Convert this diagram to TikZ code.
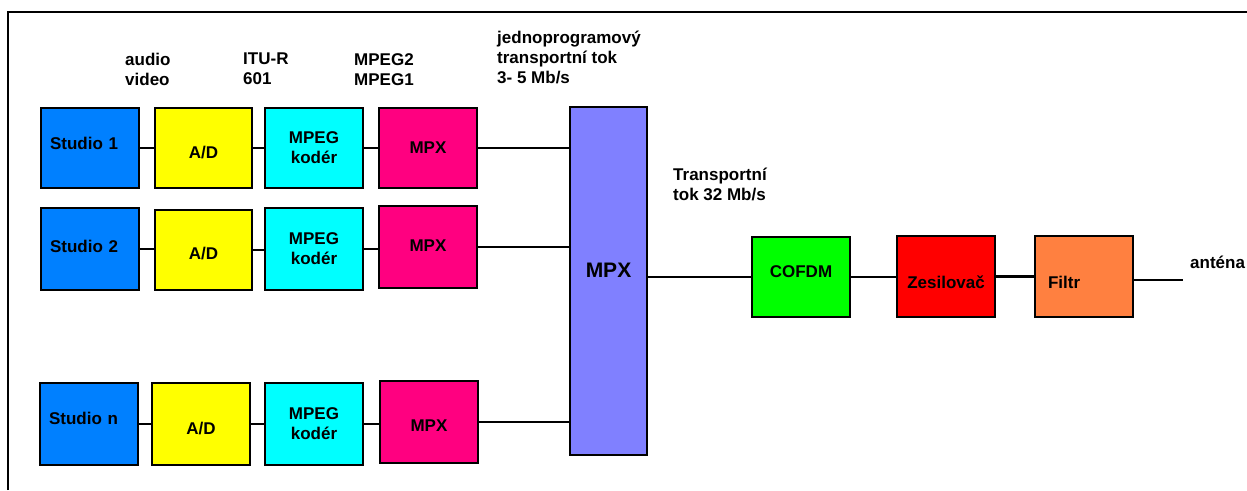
\documentclass[tikz,border=0pt]{standalone}
\usepackage{fontspec}
\setmainfont{Liberation Sans}
\begin{document}
\begin{tikzpicture}[x=1pt,y=-1pt,
  box/.style={draw=black,line width=2.5pt,rectangle,minimum width=98pt,minimum height=80pt,inner sep=0pt,align=center,font=\bfseries\fontsize{17}{20}\selectfont},
  studiobox/.style={box,fill=stblue,text width=80pt,inner xsep=9pt,align=left},
  adbox/.style={box,fill=adyellow},
  mpegbox/.style={box,fill=mpcyan},
  mpxbox/.style={box,fill=mpxpink},
  tup/.style={text height=12pt,text depth=#1},
  tdown/.style={text height=#1,text depth=0pt},
  lbl/.style={anchor=north west,inner sep=0pt,align=left,font=\bfseries\fontsize{17}{20}\selectfont},
  conn/.style={draw=black,line width=2.5pt}]
\definecolor{stblue}{RGB}{0,128,255}
\definecolor{adyellow}{RGB}{255,255,0}
\definecolor{mpcyan}{RGB}{0,255,255}
\definecolor{mpxpink}{RGB}{255,0,128}
\definecolor{bigmpx}{RGB}{128,128,255}
\definecolor{cogreen}{RGB}{0,255,0}
\definecolor{zered}{RGB}{255,0,0}
\definecolor{filtrc}{RGB}{255,128,64}
\useasboundingbox (0,0) rectangle (1247,490);
\fill[white] (0,0) rectangle (1247,490);
\draw[line width=2.5pt] (8,490) -- (8,12) -- (1247,12);

% row 1
\node[studiobox,tup=10pt] (s1) at (90,148) {Studio 1};
\node[adbox,minimum width=97pt,tdown=20pt] (ad1) at (203.5,148) {A/D};
\node[mpegbox] (mp1) at (314,148) {MPEG\\kodér};
\node[mpxbox] (x1) at (428,148) {MPX};
% row 2
\node[studiobox,minimum height=82pt,tup=6pt] (s2) at (90,249) {Studio 2};
\node[adbox,minimum width=97pt,tdown=18pt] (ad2) at (203.5,250) {A/D};
\node[mpegbox,minimum height=82pt] (mp2) at (314,249) {MPEG\\kodér};
\node[mpxbox,minimum height=82pt,tup=4pt] (x2) at (428,247) {MPX};
% row 3
\node[studiobox,minimum height=82pt,tup=12pt] (s3) at (89,424) {Studio n};
\node[adbox,minimum height=82pt,tdown=20pt] (ad3) at (201,424) {A/D};
\node[mpegbox,minimum height=82pt] (mp3) at (314,424) {MPEG\\kodér};
\node[mpxbox,minimum height=82pt,tdown=18pt] (x3) at (429,422) {MPX};

% big multiplexer
\node[box,fill=bigmpx,minimum width=77pt,minimum height=348pt,font=\bfseries\fontsize{21}{24}\selectfont,text height=15pt,text depth=22pt] (big) at (608.5,281) {MPX};

% transmitter chain
\node[box,fill=cogreen,tup=12pt] (co) at (801,277) {COFDM};
\node[box,fill=zered,minimum height=81pt,tdown=24pt] (ze) at (946,276.5) {Zesilovač};
\node[box,fill=filtrc,minimum height=81pt,text width=72pt,inner xsep=13pt,align=left,tdown=24pt] (fi) at (1084,276.5) {Filtr};
\coordinate (ant) at (1183,280);

% connectors
\draw[conn] (s1.east) -- (s1.east -| ad1.west);
\draw[conn] (ad1.east) -- (ad1.east -| mp1.west);
\draw[conn] (mp1.east) -- (mp1.east -| x1.west);
\draw[conn] (s2.east) -- (s2.east -| ad2.west);
\draw[conn] (ad2.east) -- (ad2.east -| mp2.west);
\draw[conn] (mp2.east) -- (mp2.east -| x2.west);
\draw[conn] (s3.east) -- (s3.east -| ad3.west);
\draw[conn] (ad3.east) -- (ad3.east -| mp3.west);
\draw[conn] (mp3.east) -- (mp3.east -| x3.west);
\draw[conn] (x1.east) -- (x1.east -| big.west);
\draw[conn] (x2.east) -- (x2.east -| big.west);
\draw[conn] (x3.east) -- (x3.east -| big.west);
\draw[conn] (big.east |- co.west) -- (co.west);
\draw[conn] (co.east) -- (co.east -| ze.west);
\draw[conn] (ze.east) -- (ze.east -| fi.west);
\draw[conn] (fi.east |- ant) -- (ant);

% labels
\node[lbl] (l1) at (125,53) {audio\\video};
\node[lbl] (l2) at (243,53) {ITU-R\\601};
\node[lbl] (l3) at (354,53) {MPEG2\\MPEG1};
\node[lbl] (l4) at (497,31) {jednoprogramový\\transportní tok\\3- 5 Mb/s};
\node[lbl] (l5) at (673,168) {Transportní\\tok 32 Mb/s};
\node[lbl,anchor=west] (l6) at (1190,262) {anténa};
\end{tikzpicture}
\end{document}
